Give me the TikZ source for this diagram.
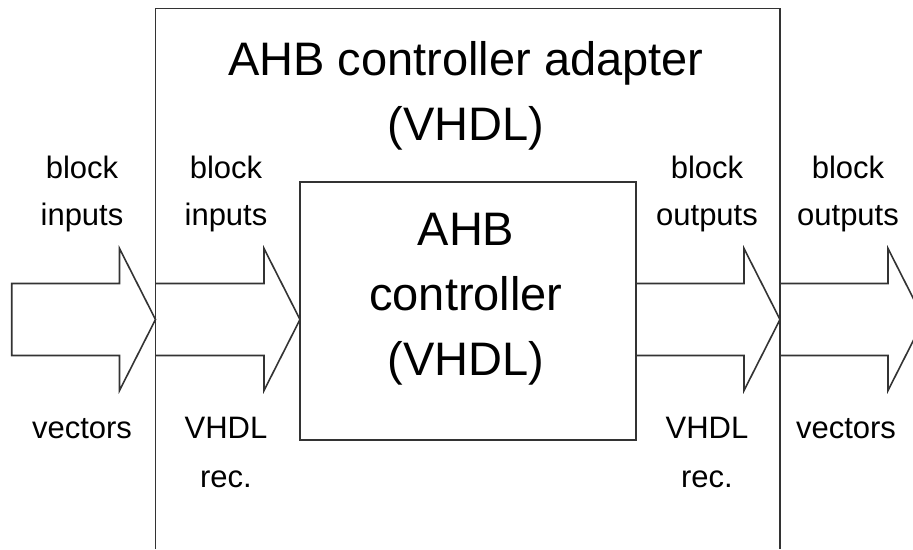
\documentclass[tikz,border=0pt]{standalone}
\usepackage{fontspec}
\setmainfont{Liberation Sans}
\tikzset{
  frame/.style={draw=black!80, line width=1.6pt, line join=miter},
  big/.style={font=\fontsize{47}{60}\selectfont, inner sep=0pt, anchor=base},
  small/.style={font=\fontsize{31}{40}\selectfont, inner sep=0pt, anchor=base},
}
% block arrow: #1 = tail x, #2 = tip x, #3 = extra path end (e.g. "-- cycle")
\newcommand\blockarrow[3]{%
  \draw[frame] (#1,283.5) -- (#2-36,283.5) -- (#2-36,248.5) -- (#2,319.5)
    -- (#2-36,390.5) -- (#2-36,355.5) -- (#1,355.5) #3;}
\begin{document}
\begin{tikzpicture}[x=1pt,y=-1pt]
  \useasboundingbox (0,0) rectangle (913,549);

  % adapter frame (open at the bottom)
  \coordinate (adL) at (155.5,319.5);
  \coordinate (adR) at (780,319.5);
  \draw[frame] (155.5,549) -- (155.5,8.5) -- (780,8.5) -- (780,549);
  \node[big] (title1) at (466,75) {AHB controller adapter};
  \node[big] (title2) at (466,140) {(VHDL)};

  % controller block
  \node[frame, minimum width=336pt, minimum height=258pt, inner sep=0pt]
    (ctrl) at (468,311) {};
  \node[big] (c1) at (466,245) {AHB};
  \node[big] (c2) at (466,310) {controller};
  \node[big] (c3) at (466,375) {(VHDL)};

  % signal arrows
  \blockarrow{11.7}{155.5}{-- cycle}
  \blockarrow{155.5}{300}{}
  \blockarrow{636}{780}{}
  \blockarrow{780}{924}{}

  % arrow labels
  \node[small] (l1a) at (82,178) {block};
  \node[small] (l1b) at (82,225) {inputs};
  \node[small] (l1c) at (82,438) {vectors};

  \node[small] (l2a) at (226,178) {block};
  \node[small] (l2b) at (226,225) {inputs};
  \node[small] (l2c) at (226,438) {VHDL};
  \node[small] (l2d) at (226,487) {rec.};

  \node[small] (l3a) at (707,178) {block};
  \node[small] (l3b) at (707,225) {outputs};
  \node[small] (l3c) at (707,438) {VHDL};
  \node[small] (l3d) at (707,487) {rec.};

  \node[small] (l4a) at (848,178) {block};
  \node[small] (l4b) at (848,225) {outputs};
  \node[small] (l4c) at (846,438) {vectors};
\end{tikzpicture}
\end{document}
